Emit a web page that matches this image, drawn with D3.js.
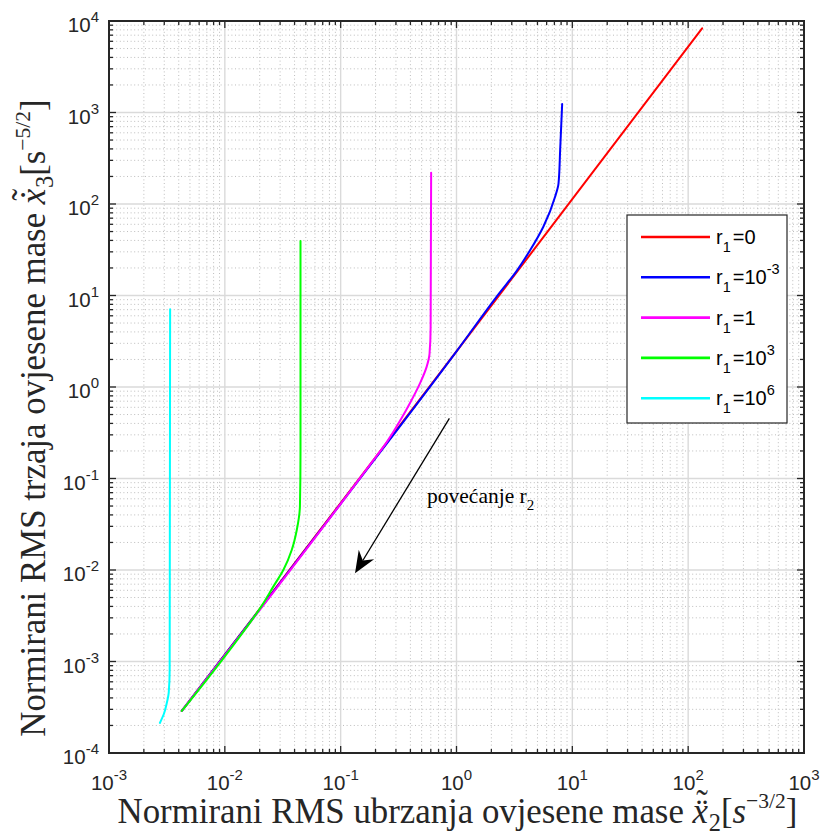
<!DOCTYPE html>
<html><head><meta charset="utf-8">
<script src="https://cdn.jsdelivr.net/npm/d3@7"></script>
<style>body{margin:0;background:#fff} svg{display:block}</style>
</head><body>
<svg id="c" width="824" height="837"></svg>
<script>
// ---------- data ----------
const xDomain = [1e-3, 1e3];
const yDomain = [1e-4, 1e4];
const xTickExps = [-3, -2, -1, 0, 1, 2, 3];
const yTickExps = [-4, -3, -2, -1, 0, 1, 2, 3, 4];
const seriesNames = ["r1=0", "r1=1e-3", "r1=1", "r1=1e3", "r1=1e6"];
const legendBase = ["0", "10", "1", "10", "10"];
const legendSup = [null, "-3", null, "3", "6"];
const seriesColors = ["#ff0000", "#0000ff", "#ff00ff", "#00ff00", "#00ffff"];

const redX = [0.00425, 1, 132];
const redY = [2.88e-4, 2.45, 8300];
const blueX = [0.00425, 0.1, 1, 2.3, 3.3, 4.33, 5.62, 7.10, 7.60, 7.85, 8.17];
const blueY = [2.88e-4, 0.0529, 2.45, 10.3, 18.5, 31.4, 56.5, 120, 168, 389, 1240];
const magentaX = [0.00425, 0.1, 0.18, 0.25, 0.337, 0.397, 0.486, 0.553, 0.585, 0.598, 0.604];
const magentaY = [2.88e-4, 0.0529, 0.143, 0.25, 0.46, 0.668, 1.11, 1.67, 2.3, 4.5, 220];
const greenX = [0.00425, 0.01, 0.0215, 0.0262, 0.0320, 0.0378, 0.0418, 0.0445, 0.0450, 0.0450];
const greenY = [2.88e-4, 1.14e-3, 0.00433, 0.00658, 0.0100, 0.01656, 0.0274, 0.05, 0.2, 39.4];
const cyanX = [0.00275, 0.00300, 0.00315, 0.00328, 0.00334, 0.00337];
const cyanY = [2.13e-4, 2.75e-4, 3.49e-4, 4.6e-4, 8e-4, 7.07];

const arrowFrom = [0.868, 0.455];
const arrowTo = [0.133, 0.0092];
const annotationPos = [0.557, 0.054];

// ---------- layout ----------
const svg = d3.select("#c");
const L = 109, R = 804, T = 21, B = 753;
const x = d3.scaleLog().domain(xDomain).range([L, R]);
const y = d3.scaleLog().domain(yDomain).range([B, T]);
const axisColor = "#262626";
const tickFont = "'Liberation Sans', Arial, Helvetica, sans-serif";
const serif = "'Liberation Serif', 'Times New Roman', serif";

svg.append("rect").attr("width", 824).attr("height", 837).attr("fill", "#fff");

const xAll = x.ticks();
const yAll = y.ticks();
const isMajor = v => Math.abs(Math.log10(v) - Math.round(Math.log10(v))) < 1e-9;

// grid
const grid = svg.append("g");
grid.selectAll(".gxm").data(xAll.filter(v => !isMajor(v))).join("line")
  .attr("x1", d => x(d)).attr("x2", d => x(d)).attr("y1", T).attr("y2", B)
  .attr("stroke", "#bdbdbd").attr("stroke-width", 1).attr("stroke-dasharray", "1,2.6");
grid.selectAll(".gym").data(yAll.filter(v => !isMajor(v))).join("line")
  .attr("y1", d => y(d)).attr("y2", d => y(d)).attr("x1", L).attr("x2", R)
  .attr("stroke", "#bdbdbd").attr("stroke-width", 1).attr("stroke-dasharray", "1,2.6");
grid.selectAll(".gxM").data(xAll.filter(isMajor)).join("line")
  .attr("x1", d => x(d)).attr("x2", d => x(d)).attr("y1", T).attr("y2", B)
  .attr("stroke", "#dadada").attr("stroke-width", 1.4);
grid.selectAll(".gyM").data(yAll.filter(isMajor)).join("line")
  .attr("y1", d => y(d)).attr("y2", d => y(d)).attr("x1", L).attr("x2", R)
  .attr("stroke", "#dadada").attr("stroke-width", 1.4);

// series
const clip = svg.append("defs").append("clipPath").attr("id", "clip");
clip.append("rect").attr("x", L).attr("y", T).attr("width", R - L).attr("height", B - T);
const lineGen = d3.line().x(d => x(d[0])).y(d => y(d[1])).curve(d3.curveMonotoneY);
const seriesData = [
  d3.zip(redX, redY), d3.zip(blueX, blueY), d3.zip(magentaX, magentaY),
  d3.zip(greenX, greenY), d3.zip(cyanX, cyanY)
];
const plotG = svg.append("g").attr("clip-path", "url(#clip)");
seriesData.forEach((pts, i) => {
  plotG.append("path").datum(pts).attr("d", lineGen)
    .attr("fill", "none").attr("stroke", seriesColors[i]).attr("stroke-width", 2)
    .attr("stroke-linejoin", "round").attr("stroke-linecap", "round");
});

// axes box + ticks
const ax = svg.append("g");
const tickLen = v => isMajor(v) ? 7 : 4;
ax.selectAll(".tb").data(xAll).join("line")
  .attr("x1", d => x(d)).attr("x2", d => x(d)).attr("y1", B).attr("y2", d => B - tickLen(d))
  .attr("stroke", axisColor).attr("stroke-width", 1.3);
ax.selectAll(".tt").data(xAll).join("line")
  .attr("x1", d => x(d)).attr("x2", d => x(d)).attr("y1", T).attr("y2", d => T + tickLen(d))
  .attr("stroke", axisColor).attr("stroke-width", 1.3);
ax.selectAll(".tl").data(yAll).join("line")
  .attr("y1", d => y(d)).attr("y2", d => y(d)).attr("x1", L).attr("x2", d => L + tickLen(d))
  .attr("stroke", axisColor).attr("stroke-width", 1.3);
ax.selectAll(".tr").data(yAll).join("line")
  .attr("y1", d => y(d)).attr("y2", d => y(d)).attr("x1", R).attr("x2", d => R - tickLen(d))
  .attr("stroke", axisColor).attr("stroke-width", 1.3);
ax.append("rect").attr("x", L).attr("y", T).attr("width", R - L).attr("height", B - T)
  .attr("fill", "none").attr("stroke", axisColor).attr("stroke-width", 2);

// tick labels
const tfs = 20.5, tss = 15;
xTickExps.forEach(e => {
  const t = svg.append("text").attr("x", x(Math.pow(10, e))).attr("y", 790)
    .attr("text-anchor", "middle").attr("font-family", tickFont).attr("font-size", tfs).attr("fill", axisColor);
  t.append("tspan").text("10");
  t.append("tspan").attr("dy", -10).attr("font-size", tss).text(String(e));
});
yTickExps.forEach(e => {
  const t = svg.append("text").attr("x", 99).attr("y", y(Math.pow(10, e)) + 11)
    .attr("text-anchor", "end").attr("font-family", tickFont).attr("font-size", tfs).attr("fill", axisColor);
  t.append("tspan").text("10");
  t.append("tspan").attr("dy", -10).attr("font-size", tss).text(String(e));
});

// axis labels
function mathLabel(t, fs, prefix, dotChar, sub, sup, italicS) {
  t.selectAll("tspan").remove();
  t.attr("font-size", fs);
  t.append("tspan").text(prefix);
  t.append("tspan").attr("font-style", "italic").text("x");
  t.append("tspan").attr("dx", -0.34 * fs).text(dotChar);
  t.append("tspan").attr("dx", -0.333 * fs).attr("dy", -0.22 * fs).text("\u02DC");
  t.append("tspan").attr("dx", 0.03 * fs).attr("dy", 0.22 * fs + 0.22 * fs).attr("font-size", 0.7 * fs).text(sub);
  t.append("tspan").attr("dy", -0.22 * fs).text("[");
  t.append("tspan").attr("font-style", italicS ? "italic" : "normal").text("s");
  t.append("tspan").attr("dy", -0.42 * fs).attr("font-size", 0.62 * fs).text(sup);
  t.append("tspan").attr("dy", 0.42 * fs).text("]");
}
const xl = svg.append("text").attr("x", (L + R) / 2 + 1).attr("y", 823).attr("text-anchor", "middle")
  .attr("font-family", serif).attr("fill", axisColor);
mathLabel(xl, 30, "Normirani RMS ubrzanja ovjesene mase ", "\u00A8", "2", "\u22123/2", true);
const fsLab = 30 * 680 / xl.node().getBBox().width;
mathLabel(xl, fsLab, "Normirani RMS ubrzanja ovjesene mase ", "\u00A8", "2", "\u22123/2", true);
const yl = svg.append("text").attr("transform", "translate(45," + 418 + ") rotate(-90)")
  .attr("text-anchor", "middle").attr("font-family", serif).attr("fill", axisColor);
mathLabel(yl, fsLab, "Normirani RMS trzaja ovjesene mase ", "\u02D9", "3", "\u22125/2", false);

// annotation arrow
const p0 = [x(arrowFrom[0]), y(arrowFrom[1])];
const p1 = [x(arrowTo[0]), y(arrowTo[1])];
const dx = p1[0] - p0[0], dy = p1[1] - p0[1];
const len = Math.hypot(dx, dy);
const ux = dx / len, uy = dy / len, px = -uy, py = ux;
const hl = 22, hw = 9, notch = 15;
const nb = [p1[0] - ux * notch, p1[1] - uy * notch];
svg.append("line").attr("x1", p0[0]).attr("y1", p0[1]).attr("x2", nb[0]).attr("y2", nb[1])
  .attr("stroke", "#000").attr("stroke-width", 1.3);
const hb = [p1[0] - ux * hl, p1[1] - uy * hl];
svg.append("path").attr("d", d3.line()([
  p1, [hb[0] + px * hw, hb[1] + py * hw], nb, [hb[0] - px * hw, hb[1] - py * hw]
]) + "Z").attr("fill", "#000");
const ann = svg.append("text").attr("x", x(annotationPos[0])).attr("y", y(annotationPos[1]))
  .attr("font-family", serif).attr("font-size", 21.5).attr("fill", "#000");
ann.append("tspan").text("povećanje r");
ann.append("tspan").attr("dy", 7).attr("font-size", 15).text("2");

// legend
const lg = svg.append("g");
lg.append("rect").attr("x", 627).attr("y", 215).attr("width", 160).attr("height", 208)
  .attr("fill", "#fff").attr("stroke", axisColor).attr("stroke-width", 1.2);
seriesNames.forEach((name, i) => {
  const cy = 237 + i * 40.3;
  lg.append("line").attr("x1", 641).attr("x2", 710).attr("y1", cy).attr("y2", cy)
    .attr("stroke", seriesColors[i]).attr("stroke-width", 2.6);
  const t = lg.append("text").attr("x", 716).attr("y", cy + 7)
    .attr("font-family", tickFont).attr("font-size", 20).attr("fill", "#000");
  t.append("tspan").text("r");
  t.append("tspan").attr("dy", 8).attr("font-size", 14.5).text("1");
  t.append("tspan").attr("dy", -8).attr("dx", 2).text("=" + legendBase[i]);
  if (legendSup[i]) t.append("tspan").attr("dy", -10).attr("font-size", 14.5).text(legendSup[i]);
});
</script>
</body></html>
